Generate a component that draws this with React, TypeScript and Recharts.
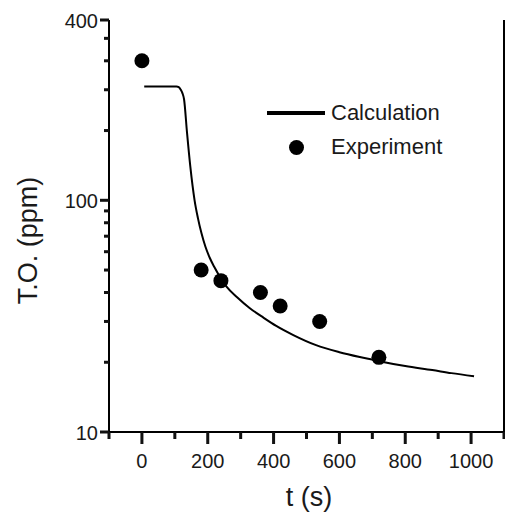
import { useEffect, useState } from 'react';
import {
  ComposedChart,
  Line,
  Scatter,
  XAxis,
  YAxis,
} from 'recharts';

// calculated curve (t in s, T.O. in ppm)
const CALC_T = [7, 105, 112, 118, 123, 128, 137, 147, 160, 170, 181, 193, 206, 220, 240, 257, 290, 327, 370, 408, 460, 529, 600, 680, 721, 800, 882, 940, 1009];
const CALC_V = [310, 310, 308, 300, 290, 273, 196, 140, 100, 84, 72, 63, 56.5, 51.5, 46, 42.4, 38.1, 34.3, 31.1, 28.7, 26.2, 23.7, 22.1, 20.8, 20.2, 19.25, 18.5, 17.95, 17.4];

// measured points
const EXP_T = [0, 180, 240, 360, 420, 540, 720];
const EXP_V = [400, 50, 45, 40, 35, 30, 21];

const X_TICKS = [-100, 0, 100, 200, 300, 400, 500, 600, 700, 800, 900, 1000, 1100];
const X_MAJOR = [0, 200, 400, 600, 800, 1000];
const Y_TICKS = [10, 20, 30, 40, 50, 60, 70, 80, 90, 100, 200, 300, 400, 500, 600];
const Y_MAJOR = [10, 100, 600];
const Y_MAJOR_LABELS = ['10', '100', '400'];

const calcData = CALC_T.map((t, i) => ({ t, v: CALC_V[i] }));
const expData = EXP_T.map((t, i) => ({ t, v: EXP_V[i] }));

const FONT = '"Liberation Sans", Arial, sans-serif';
const INK = '#1a1a1a';
const TICK = '#111111';

const renderBottomTick = (props: any) => {
  const x = Number(props.x);
  const y = Number(props.y);
  const val = props.payload.value;
  const major = X_MAJOR.includes(val);
  return (
    <g>
      <rect x={x - 1.5} y={y} width={3} height={major ? 12 : 7} fill={TICK} />
      {major && (
        <text x={x} y={y + 36} textAnchor="middle" fontSize={20} fontFamily={FONT} fill={INK}>
          {val}
        </text>
      )}
    </g>
  );
};

const renderTopTick = (props: any) => {
  const x = Number(props.x);
  const y = Number(props.y);
  const h = X_MAJOR.includes(props.payload.value) ? 12 : 7;
  return <rect x={x - 1.5} y={y - h} width={3} height={h} fill={TICK} />;
};

const renderLeftTick = (props: any) => {
  const x = Number(props.x);
  const y = Number(props.y);
  const idx = Y_MAJOR.indexOf(props.payload.value);
  const w = idx >= 0 ? 9 : 5;
  return (
    <g>
      <rect x={x - w} y={y - 1.5} width={w} height={3} fill={TICK} />
      {idx >= 0 && (
        <text x={x - 11} y={y + 7.5} textAnchor="end" fontSize={20} fontFamily={FONT} fill={INK}>
          {Y_MAJOR_LABELS[idx]}
        </text>
      )}
    </g>
  );
};

const Dot = (props: any) => <circle cx={props.cx} cy={props.cy} r={7.5} fill="#000" />;

const textStyle = { position: 'absolute' as const, fontFamily: FONT, color: INK, whiteSpace: 'nowrap' as const };

export default function App() {
  // one extra render after mount so the axes settle
  const [ready, setReady] = useState(false);
  useEffect(() => {
    const id = setTimeout(() => setReady(true), 30);
    return () => clearTimeout(id);
  }, []);

  return (
    <div style={{ position: 'absolute', left: 0, top: 0, width: 505, height: 517, background: '#fff' }}>
      <ComposedChart key={ready ? 'r' : 'i'} width={505} height={517} margin={{ top: 20, right: 0, bottom: 0, left: 0 }}>
        <XAxis
          xAxisId="b"
          type="number"
          dataKey="t"
          domain={[-100, 1100]}
          allowDataOverflow
          ticks={X_TICKS}
          interval={0}
          tickSize={0}
          tickMargin={0}
          tickLine={false}
          tick={renderBottomTick}
          height={85}
          axisLine={{ stroke: '#000', strokeWidth: 2 }}
        />
        <XAxis
          xAxisId="t"
          orientation="top"
          type="number"
          dataKey="t"
          domain={[-100, 1100]}
          allowDataOverflow
          ticks={X_TICKS}
          interval={0}
          tickSize={0}
          tickMargin={0}
          tickLine={false}
          tick={renderTopTick}
          height={0}
          axisLine={{ stroke: '#000', strokeWidth: 2 }}
        />
        <YAxis
          yAxisId="l"
          type="number"
          scale="log"
          dataKey="v"
          domain={[10, 600]}
          allowDataOverflow
          ticks={Y_TICKS}
          interval={0}
          tickSize={0}
          tickMargin={0}
          tickLine={false}
          tick={renderLeftTick}
          width={109}
          axisLine={{ stroke: '#000', strokeWidth: 2 }}
        />
        <YAxis
          yAxisId="r"
          orientation="right"
          type="number"
          scale="log"
          domain={[10, 600]}
          allowDataOverflow
          tick={false}
          tickLine={false}
          width={1}
          axisLine={{ stroke: '#000', strokeWidth: 2 }}
        />
        <Line
          xAxisId="b"
          yAxisId="l"
          data={calcData}
          dataKey="v"
          type="monotone"
          stroke="#000"
          strokeWidth={2}
          dot={false}
          isAnimationActive={false}
        />
        <Scatter
          xAxisId="b"
          yAxisId="l"
          data={expData}
          dataKey="v"
          shape={<Dot />}
          isAnimationActive={false}
        />
      </ComposedChart>

      {/* legend */}
      <div style={{ position: 'absolute', left: 267, top: 110.75, width: 58, height: 4.5, background: '#000' }} />
      <div style={{ ...textStyle, left: 331, top: 102.4, fontSize: 22, lineHeight: '22px' }}>Calculation</div>
      <div style={{ position: 'absolute', left: 289, top: 139.5, width: 15, height: 15, borderRadius: '50%', background: '#000' }} />
      <div style={{ ...textStyle, left: 331, top: 136.4, fontSize: 22, lineHeight: '22px' }}>Experiment</div>

      {/* axis titles */}
      <div style={{ ...textStyle, left: 209, top: 484, width: 200, textAlign: 'center', fontSize: 27, lineHeight: '27px' }}>
        t (s)
      </div>
      <div
        style={{
          ...textStyle,
          left: -72.4,
          top: 226.5,
          width: 200,
          height: 27,
          textAlign: 'center',
          fontSize: 27,
          lineHeight: '27px',
          transform: 'rotate(-90deg)',
          transformOrigin: 'center',
        }}
      >
        T.O. (ppm)
      </div>
    </div>
  );
}
